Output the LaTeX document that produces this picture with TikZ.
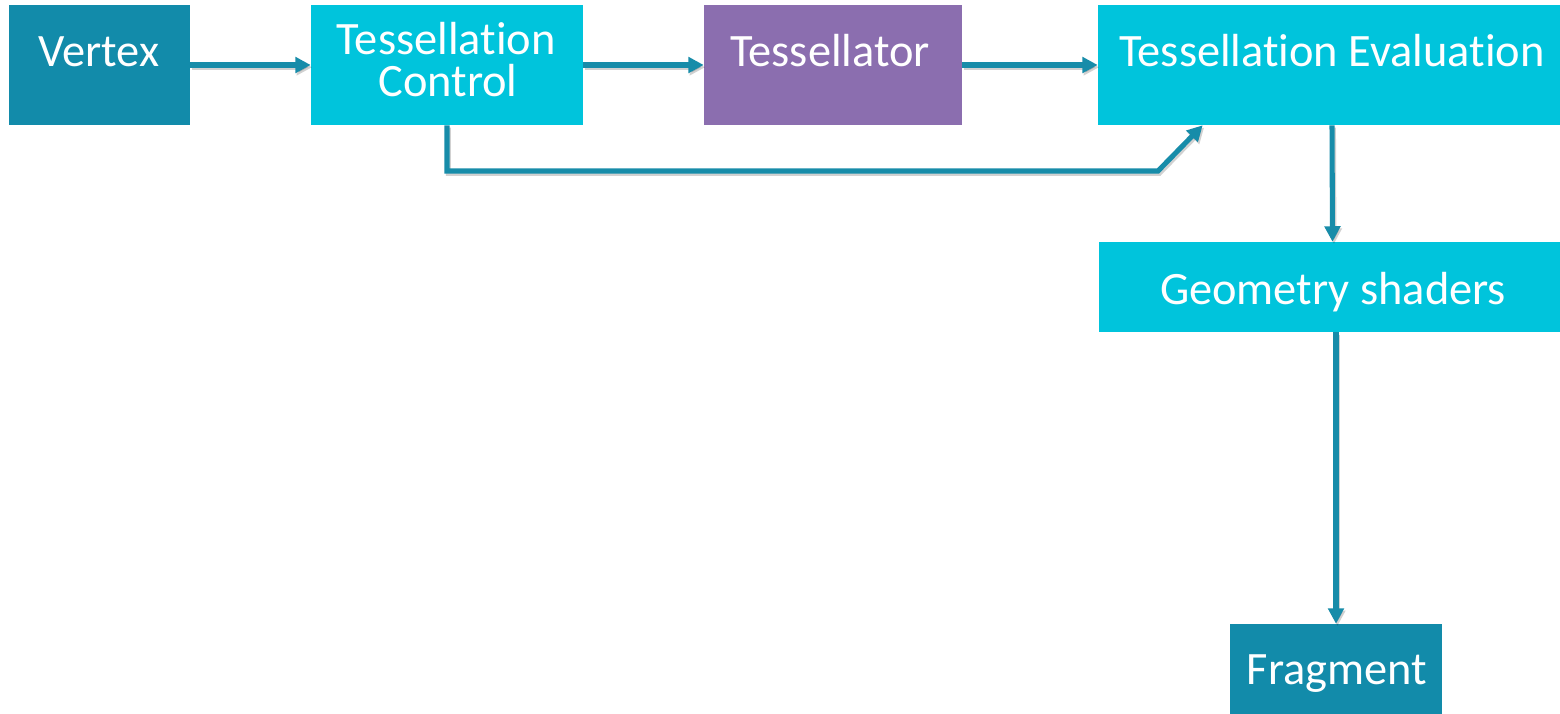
\documentclass[tikz,border=0pt]{standalone}
\usepackage{fontspec}
\setmainfont{Carlito}[Ligatures={NoCommon,NoContextual}]
\usetikzlibrary{arrows.meta,calc}
\definecolor{darkteal}{HTML}{128BAA}
\definecolor{cyanbox}{HTML}{00C4DC}
\definecolor{purplebox}{HTML}{8B6EAF}
\definecolor{flow}{HTML}{178CA9}
\begin{document}
\begin{tikzpicture}[x=0.025cm,y=-0.025cm,
  box/.style={rectangle,inner sep=0pt,draw=none},
  lbl/.style={anchor=base,text=white,inner sep=0pt,font=\fontsize{33}{40}\selectfont},
  flowline/.style={draw=flow,line width=3.6pt,
    -{Triangle[length=11pt,width=11pt]},
    preaction={draw=black,opacity=0.18,line width=3.6pt,
      transform canvas={shift={(1pt,-1.6pt)}}}}]
\useasboundingbox (0,0) rectangle (1560,714);

% stage boxes
\node[box,fill=darkteal,minimum width=181*0.025cm,minimum height=120*0.025cm] (vtx) at (99.5,65) {};
\node[box,fill=cyanbox,minimum width=272*0.025cm,minimum height=120*0.025cm] (tc) at (447,65) {};
\node[box,fill=purplebox,minimum width=258*0.025cm,minimum height=120*0.025cm] (tor) at (833,65) {};
\node[box,fill=cyanbox,minimum width=462*0.025cm,minimum height=120*0.025cm] (te) at (1329,65) {};
\node[box,fill=cyanbox,minimum width=461*0.025cm,minimum height=90*0.025cm] (gs) at (1329.5,287) {};
\node[box,fill=darkteal,minimum width=212*0.025cm,minimum height=90*0.025cm] (frag) at (1336,669) {};

% labels
\node[lbl] (tvtx) at (99,67) {Vertex};
\node[lbl] (ttc1) at (446,55) {Tessellation};
\node[lbl] (ttc2) at (448,97) {Control};
\node[lbl] (ttor) at (830,67) {Tessellator};
\node[lbl] (tte) at (1332,67) {Tessellation Evaluation};
\node[lbl] (tgs) at (1333,305) {Geometry shaders};
\node[lbl] (tfrag) at (1337,684) {Fragment};

% connectors
\draw[flowline] (vtx.east) -- (tc.west);
\draw[flowline] (tc.east) -- (tor.west);
\draw[flowline] (tor.east) -- (te.west);
\coordinate (bend) at (1158,171);
\draw[flowline] (tc.south) |- (bend) -- ($(te.south west)+(105,0)$);
\draw[flowline] ($(te.south)+(3,0)$) -- ($(gs.north)+(3,0)$);
\draw[flowline] (gs.south -| frag.north) -- (frag.north);
\end{tikzpicture}
\end{document}
